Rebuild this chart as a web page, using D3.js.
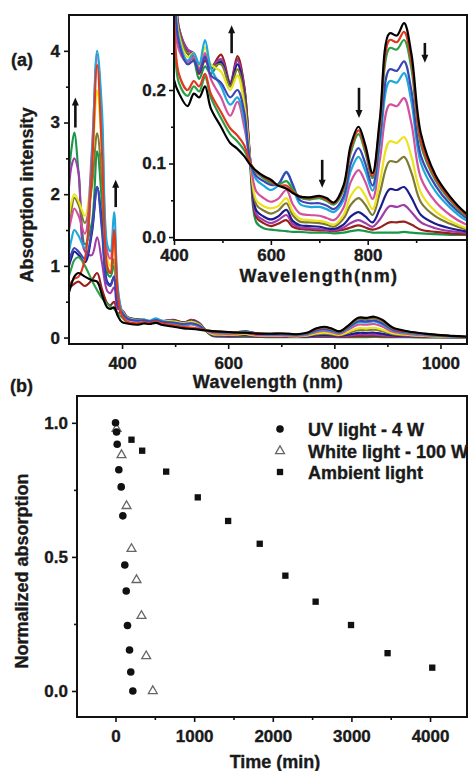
<!DOCTYPE html>
<html lang="en">
<head>
<meta charset="UTF-8">
<title>Absorption spectra and decay</title>
<script src="https://d3js.org/d3.v7.min.js"></script>
<style>
  body { margin: 0; background: #fff; }
  svg { display: block; font-family: "Liberation Sans", Arial, sans-serif; font-weight: bold; }
  svg text { stroke: #1a1a1a; stroke-width: 0.35px; }
</style>
</head>
<body>
<svg width="468" height="771"></svg>
<script>
// wavelength grid (nm) shared by all spectra
const wavelength = [300, 305, 310, 318, 330, 343, 353, 362, 372, 378, 385, 392,
  400, 410, 428, 441, 452, 464, 476, 497, 516, 531, 545, 558,
  570, 585, 600, 615, 632, 645, 660, 680, 700, 715, 730, 750, 765, 781, 795, 810,
  825, 845, 860, 875, 890, 910, 940, 970, 1000, 1050];

// one array per spectrum
const absBlack = [0.63, 0.75, 0.85, 0.9, 0.85, 0.8, 0.78, 0.6, 0.42, 0.4, 0.42, 0.3,
  0.214, 0.196, 0.178, 0.195, 0.19, 0.205, 0.175, 0.15, 0.128, 0.12, 0.11, 0.098,
  0.09, 0.083, 0.078, 0.07, 0.066, 0.06, 0.055, 0.054, 0.056, 0.053, 0.047, 0.07, 0.125, 0.15, 0.125, 0.087,
  0.16, 0.277, 0.274, 0.291, 0.25, 0.14, 0.084, 0.055, 0.034, 0.012];
const absRed = [0.72, 0.78, 0.82, 0.85, 1.1, 2.3, 3.8, 2.6, 1.0, 0.9, 1.5, 0.6,
  0.3, 0.222, 0.2, 0.212, 0.205, 0.222, 0.195, 0.17, 0.148, 0.138, 0.125, 0.1,
  0.089, 0.082, 0.076, 0.07, 0.07, 0.062, 0.055, 0.053, 0.055, 0.051, 0.046, 0.067, 0.12, 0.145, 0.12, 0.083,
  0.155, 0.268, 0.265, 0.279, 0.24, 0.13, 0.08, 0.052, 0.032, 0.011];
const absGreen = [0.86, 0.98, 1.08, 1.12, 1.0, 0.8, 0.66, 0.55, 0.47, 0.43, 0.4, 0.33,
  0.28, 0.21, 0.192, 0.205, 0.198, 0.218, 0.19, 0.162, 0.14, 0.13, 0.118, 0.1,
  0.088, 0.08, 0.074, 0.071, 0.076, 0.065, 0.054, 0.051, 0.053, 0.049, 0.044, 0.064, 0.115, 0.14, 0.115, 0.08,
  0.15, 0.257, 0.255, 0.268, 0.23, 0.125, 0.077, 0.05, 0.03, 0.01];
const absBlue = [1.05, 1.18, 1.25, 1.2, 1.1, 1.5, 2.1, 1.5, 0.75, 0.72, 0.85, 0.45,
  0.34, 0.265, 0.235, 0.24, 0.225, 0.245, 0.22, 0.21, 0.19, 0.2, 0.17, 0.1,
  0.083, 0.076, 0.071, 0.072, 0.088, 0.072, 0.05, 0.046, 0.046, 0.043, 0.038, 0.055, 0.1, 0.121, 0.1, 0.07,
  0.135, 0.228, 0.226, 0.239, 0.2, 0.11, 0.07, 0.045, 0.028, 0.01];
const absCyan = [1.2, 1.38, 1.5, 1.42, 1.25, 2.5, 4.0, 3.2, 1.3, 1.2, 1.75, 0.7,
  0.36, 0.27, 0.24, 0.25, 0.235, 0.268, 0.23, 0.205, 0.18, 0.19, 0.16, 0.1,
  0.078, 0.07, 0.064, 0.07, 0.089, 0.07, 0.045, 0.041, 0.041, 0.038, 0.034, 0.05, 0.09, 0.109, 0.09, 0.063,
  0.125, 0.212, 0.21, 0.223, 0.185, 0.1, 0.062, 0.04, 0.024, 0.009];
const absPink = [1.5, 1.68, 1.8, 1.7, 1.45, 2.6, 3.95, 3.0, 1.2, 1.1, 1.5, 0.65,
  0.36, 0.255, 0.238, 0.245, 0.228, 0.25, 0.215, 0.19, 0.165, 0.184, 0.15, 0.1,
  0.062, 0.053, 0.048, 0.052, 0.064, 0.045, 0.032, 0.03, 0.029, 0.026, 0.023, 0.04, 0.075, 0.091, 0.075, 0.052,
  0.105, 0.18, 0.178, 0.189, 0.155, 0.08, 0.048, 0.03, 0.018, 0.007];
const absYellow = [1.7, 1.9, 2.0, 1.9, 1.7, 2.4, 3.45, 2.6, 1.1, 1.0, 1.3, 0.55,
  0.37, 0.275, 0.245, 0.25, 0.232, 0.258, 0.235, 0.225, 0.2, 0.22, 0.18, 0.1,
  0.05, 0.042, 0.039, 0.042, 0.053, 0.035, 0.025, 0.023, 0.022, 0.02, 0.017, 0.03, 0.056, 0.068, 0.056, 0.038,
  0.075, 0.13, 0.128, 0.136, 0.11, 0.06, 0.035, 0.022, 0.013, 0.006];
const absOlive = [1.6, 1.8, 1.95, 1.85, 1.6, 2.1, 2.85, 2.2, 0.95, 0.9, 1.1, 0.5,
  0.37, 0.28, 0.25, 0.248, 0.228, 0.25, 0.232, 0.235, 0.205, 0.228, 0.19, 0.1,
  0.044, 0.036, 0.032, 0.036, 0.046, 0.03, 0.021, 0.02, 0.019, 0.017, 0.014, 0.025, 0.044, 0.053, 0.044, 0.03,
  0.06, 0.103, 0.102, 0.109, 0.088, 0.047, 0.028, 0.018, 0.011, 0.005];
const absNavy = [1.0, 1.12, 1.2, 1.15, 1.05, 1.45, 2.1, 1.6, 0.78, 0.74, 0.85, 0.45,
  0.37, 0.28, 0.25, 0.245, 0.225, 0.245, 0.23, 0.238, 0.208, 0.235, 0.195, 0.1,
  0.036, 0.028, 0.024, 0.028, 0.037, 0.022, 0.016, 0.015, 0.014, 0.012, 0.011, 0.017, 0.028, 0.034, 0.028, 0.02,
  0.038, 0.065, 0.064, 0.068, 0.054, 0.03, 0.018, 0.012, 0.008, 0.004];
const absPurple = [2.1, 2.4, 2.5, 2.3, 1.2, 1.15, 1.4, 1.05, 0.65, 0.62, 0.7, 0.4,
  0.38, 0.285, 0.255, 0.25, 0.225, 0.248, 0.232, 0.242, 0.21, 0.24, 0.2, 0.1,
  0.031, 0.023, 0.019, 0.023, 0.03, 0.018, 0.013, 0.012, 0.011, 0.01, 0.009, 0.013, 0.019, 0.023, 0.019, 0.014,
  0.024, 0.042, 0.041, 0.0435, 0.034, 0.02, 0.012, 0.008, 0.006, 0.003];
const absMaroon = [0.7, 0.72, 0.75, 0.78, 0.72, 0.8, 0.9, 0.68, 0.48, 0.45, 0.5, 0.33,
  0.38, 0.285, 0.255, 0.248, 0.222, 0.24, 0.23, 0.248, 0.21, 0.246, 0.205, 0.1,
  0.027, 0.019, 0.015, 0.018, 0.023, 0.014, 0.011, 0.01, 0.009, 0.009, 0.008, 0.01, 0.013, 0.016, 0.013, 0.01,
  0.013, 0.02, 0.02, 0.021, 0.017, 0.01, 0.007, 0.005, 0.004, 0.003];
const absDarkGreen = [2.3, 2.65, 2.86, 2.3, 1.3, 1.6, 2.6, 1.9, 0.9, 0.85, 1.0, 0.45,
  0.36, 0.278, 0.25, 0.24, 0.215, 0.232, 0.222, 0.24, 0.205, 0.242, 0.205, 0.09,
  0.02, 0.012, 0.01, 0.009, 0.008, 0.007, 0.007, 0.006, 0.006, 0.006, 0.005, 0.006, 0.008, 0.0095, 0.008, 0.006,
  0.006, 0.006, 0.006, 0.007, 0.006, 0.005, 0.004, 0.003, 0.003, 0.002];

const spectra = [
  { color: "#000000", values: absBlack },
  { color: "#e03a1e", values: absRed },
  { color: "#2ca048", values: absGreen },
  { color: "#3c46b4", values: absBlue },
  { color: "#1ea8dc", values: absCyan },
  { color: "#d4509c", values: absPink },
  { color: "#ece21e", values: absYellow },
  { color: "#7d7a32", values: absOlive },
  { color: "#1c1c8c", values: absNavy },
  { color: "#a03ca8", values: absPurple },
  { color: "#9a1e1e", values: absMaroon },
  { color: "#18964a", values: absDarkGreen }
];

// panel (b) decay data
const uvTime = [0, 13, 21, 42, 72, 93, 118, 136, 152, 178, 194, 220];
const uvValue = [1.0, 0.966, 0.92, 0.825, 0.761, 0.653, 0.47, 0.373, 0.244, 0.153, 0.071, 0.0];
const whiteTime = [13, 76, 140, 203, 267, 330, 390, 474];
const whiteValue = [0.978, 0.88, 0.69, 0.53, 0.414, 0.28, 0.13, 0.0];
const ambientTime = [203, 339, 644, 1046, 1432, 1834, 2160, 2545, 2995, 3460, 4028];
const ambientValue = [0.937, 0.896, 0.818, 0.722, 0.634, 0.549, 0.43, 0.333, 0.246, 0.141, 0.087];

const legendLabels = ["UV light - 4 W", "White light - 100 W", "Ambient light"];

// annotation arrows, in data units
const mainArrows = [
  { x: 312, y0: 2.93, y1: 3.35 },
  { x: 388, y0: 1.82, y1: 2.2 }
];
const insetArrows = [
  { x: 519, y0: 0.25, y1: 0.288 },
  { x: 706, y0: 0.105, y1: 0.067 },
  { x: 782, y0: 0.203, y1: 0.162 },
  { x: 918, y0: 0.264, y1: 0.237 }
];

const svg = d3.select("svg");

function styleAxis(g, size) {
  g.select(".domain").remove();
  g.selectAll("line").attr("stroke", "#111").attr("stroke-width", 1.6);
  g.selectAll("text").attr("font-size", size).attr("fill", "#1a1a1a")
    .attr("font-family", "'Liberation Sans', Arial, sans-serif").attr("font-weight", "bold");
}

function drawArrow(g, x, y0, y1) {
  // y0 tail, y1 head (pixels)
  const dir = y1 < y0 ? -1 : 1;
  g.append("line").attr("x1", x).attr("x2", x).attr("y1", y0).attr("y2", y1 - dir * 6)
    .attr("stroke", "#111").attr("stroke-width", 2.6);
  g.append("path")
    .attr("d", `M${x - 3.5},${y1 - dir * 8} L${x + 3.5},${y1 - dir * 8} L${x},${y1} Z`)
    .attr("fill", "#111");
}

// ---------- panel (a) main ----------
const mx = d3.scaleLinear([300, 1050], [69, 467]);
const my = d3.scaleLinear([-0.09, 4.5], [344, 15]);

const defs = svg.append("defs");
defs.append("clipPath").attr("id", "clipMain")
  .append("rect").attr("x", 69).attr("y", 15).attr("width", 398).attr("height", 329);
defs.append("clipPath").attr("id", "clipInset")
  .append("rect").attr("x", 174).attr("y", 15).attr("width", 293).attr("height", 225);

const mainLine = d3.line()
  .x((d, i) => mx(wavelength[i]))
  .y(d => my(d))
  .curve(d3.curveCatmullRom.alpha(0.5));

const gMain = svg.append("g").attr("clip-path", "url(#clipMain)");
spectra.slice().reverse().forEach(s => {
  gMain.append("path").attr("d", mainLine(s.values))
    .attr("fill", "none").attr("stroke", s.color).attr("stroke-width", 2.1);
});

mainArrows.forEach(a => drawArrow(svg, mx(a.x), my(a.y0), my(a.y1)));

svg.append("g").attr("transform", "translate(0,344)")
  .call(d3.axisBottom(mx).tickValues([400, 600, 800, 1000]).tickSize(5).tickPadding(8).tickFormat(d3.format("d")))
  .call(g => styleAxis(g, 17));
svg.append("g").attr("transform", "translate(0,344)")
  .call(d3.axisBottom(mx).tickValues([500, 700, 900]).tickSize(3).tickFormat(""))
  .call(g => styleAxis(g, 17));
svg.append("g").attr("transform", "translate(69,0)")
  .call(d3.axisLeft(my).tickValues([0, 1, 2, 3, 4]).tickSize(5).tickPadding(4).tickFormat(d3.format("d")))
  .call(g => styleAxis(g, 17));
svg.append("g").attr("transform", "translate(69,0)")
  .call(d3.axisLeft(my).tickValues([0.5, 1.5, 2.5, 3.5]).tickSize(3).tickFormat(""))
  .call(g => styleAxis(g, 17));

svg.append("rect").attr("x", 69).attr("y", 15).attr("width", 398).attr("height", 329)
  .attr("fill", "none").attr("stroke", "#111").attr("stroke-width", 2);

svg.append("text").attr("x", 268).attr("y", 388).attr("text-anchor", "middle")
  .attr("font-size", 18).attr("letter-spacing", 0.4).attr("fill", "#1a1a1a").text("Wavelength (nm)");
svg.append("text").attr("transform", "translate(33,195) rotate(-90)").attr("text-anchor", "middle")
  .attr("font-size", 18).attr("fill", "#1a1a1a").text("Absorption intensity");
svg.append("text").attr("x", 11).attr("y", 66).attr("font-size", 18).attr("fill", "#1a1a1a").text("(a)");

// ---------- panel (a) inset ----------
const ix = d3.scaleLinear([400, 1005], [174, 467]);
const iy = d3.scaleLinear([-0.004, 0.302], [240, 15]);

svg.append("rect").attr("x", 174).attr("y", 15).attr("width", 293).attr("height", 225).attr("fill", "#fff");

// the inset starts one grid point before 400 nm so lines enter from the left edge
const insetStart = 11;
const insetLine = d3.line()
  .x((d, i) => ix(wavelength[i + insetStart]))
  .y(d => iy(d))
  .curve(d3.curveCatmullRom.alpha(0.5));

const gInset = svg.append("g").attr("clip-path", "url(#clipInset)");
spectra.slice().reverse().forEach(s => {
  gInset.append("path").attr("d", insetLine(s.values.slice(insetStart)))
    .attr("fill", "none").attr("stroke", s.color).attr("stroke-width", 2.2);
});

insetArrows.forEach(a => drawArrow(svg, ix(a.x), iy(a.y0), iy(a.y1)));

svg.append("g").attr("transform", "translate(0,240)")
  .call(d3.axisBottom(ix).tickValues([400, 600, 800]).tickSize(5).tickPadding(4).tickFormat(d3.format("d")))
  .call(g => styleAxis(g, 17));
svg.append("g").attr("transform", "translate(0,240)")
  .call(d3.axisBottom(ix).tickValues([500, 700, 900]).tickSize(3).tickFormat(""))
  .call(g => styleAxis(g, 17));
svg.append("g").attr("transform", "translate(174,0)")
  .call(d3.axisLeft(iy).tickValues([0, 0.1, 0.2]).tickSize(5).tickPadding(3).tickFormat(d3.format(".1f")))
  .call(g => styleAxis(g, 17));
svg.append("g").attr("transform", "translate(174,0)")
  .call(d3.axisLeft(iy).tickValues([0.05, 0.15, 0.25]).tickSize(3).tickFormat(""))
  .call(g => styleAxis(g, 17));

svg.append("rect").attr("x", 174).attr("y", 15).attr("width", 293).attr("height", 225)
  .attr("fill", "none").attr("stroke", "#111").attr("stroke-width", 2);

svg.append("text").attr("x", 319).attr("y", 282).attr("text-anchor", "middle")
  .attr("font-size", 18).attr("letter-spacing", 1.4).attr("fill", "#1a1a1a").text("Wavelength(nm)");

// ---------- panel (b) ----------
const bx = d3.scaleLinear([-490, 4470], [77, 467]);
const by = d3.scaleLinear([-0.097, 1.1], [717, 396]);

svg.append("text").attr("x", 10).attr("y", 392).attr("font-size", 18).attr("fill", "#1a1a1a").text("(b)");

svg.append("g").attr("transform", "translate(0,717)")
  .call(d3.axisBottom(bx).tickValues([0, 1000, 2000, 3000, 4000]).tickSize(5).tickPadding(8).tickFormat(d3.format("d")))
  .call(g => styleAxis(g, 17));
svg.append("g").attr("transform", "translate(0,717)")
  .call(d3.axisBottom(bx).tickValues([500, 1500, 2500, 3500]).tickSize(3).tickFormat(""))
  .call(g => styleAxis(g, 17));
svg.append("g").attr("transform", "translate(77,0)")
  .call(d3.axisLeft(by).tickValues([0, 0.5, 1.0]).tickSize(5).tickPadding(4).tickFormat(d3.format(".1f")))
  .call(g => styleAxis(g, 17));
svg.append("g").attr("transform", "translate(77,0)")
  .call(d3.axisLeft(by).tickValues([0.25, 0.75]).tickSize(3).tickFormat(""))
  .call(g => styleAxis(g, 17));

svg.append("rect").attr("x", 77).attr("y", 396).attr("width", 390).attr("height", 321)
  .attr("fill", "none").attr("stroke", "#111").attr("stroke-width", 2);

const triangle = d3.symbol().type(d3.symbolTriangle).size(34);
const square = d3.symbol().type(d3.symbolSquare).size(40);

svg.append("g").selectAll("path").data(ambientTime).join("path")
  .attr("transform", (d, i) => `translate(${bx(d)},${by(ambientValue[i])})`)
  .attr("d", square()).attr("fill", "#111");
svg.append("g").selectAll("path").data(whiteTime).join("path")
  .attr("transform", (d, i) => `translate(${bx(d)},${by(whiteValue[i])})`)
  .attr("d", triangle()).attr("fill", "#fff").attr("stroke", "#666").attr("stroke-width", 1.3);
svg.append("g").selectAll("circle").data(uvTime).join("circle")
  .attr("cx", d => bx(d)).attr("cy", (d, i) => by(uvValue[i])).attr("r", 3.8).attr("fill", "#111");

// legend
const legendY = [429, 451, 472];
svg.append("circle").attr("cx", 280).attr("cy", legendY[0]).attr("r", 3.8).attr("fill", "#111");
svg.append("path").attr("transform", `translate(280,${legendY[1]})`).attr("d", triangle())
  .attr("fill", "#fff").attr("stroke", "#666").attr("stroke-width", 1.3);
svg.append("path").attr("transform", `translate(280,${legendY[2]})`).attr("d", square()).attr("fill", "#111");
legendLabels.forEach((t, i) => {
  svg.append("text").attr("x", 308).attr("y", legendY[i] + 6.5)
    .attr("font-size", 18).attr("fill", "#1a1a1a").text(t);
});

svg.append("text").attr("x", 275).attr("y", 768).attr("text-anchor", "middle")
  .attr("font-size", 18).attr("fill", "#1a1a1a").text("Time (min)");
svg.append("text").attr("transform", "translate(28,571) rotate(-90)").attr("text-anchor", "middle")
  .attr("font-size", 18).attr("fill", "#1a1a1a").text("Normalized absorption");
</script>
</body>
</html>
